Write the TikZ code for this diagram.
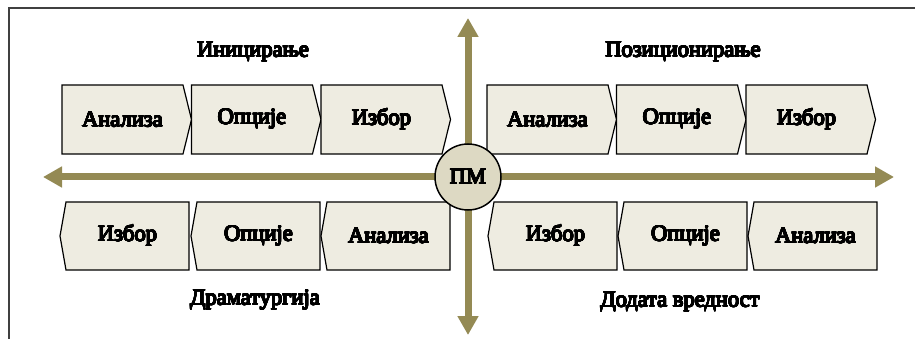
\documentclass[tikz,border=0pt]{standalone}
\usepackage{fontspec}
\setmainfont{Liberation Serif}
\usepackage{contour}
\contourlength{0.5pt}
\contournumber{24}
% heavy serif lettering for every label
\newcommand\heavy[1]{\contour{black}{#1}}
\usetikzlibrary{arrows.meta}
\definecolor{axiscol}{RGB}{148,138,84}
\definecolor{stagefill}{RGB}{238,236,225}
\definecolor{hubfill}{RGB}{221,217,195}
\definecolor{framecol}{RGB}{64,64,64}
\tikzset{
  stage/.style={draw=black, line width=1.2pt, fill=stagefill, line join=miter},
  stagetext/.style={font=\fontsize{22.5}{24}\selectfont, inner sep=0pt},
  title/.style={font=\fontsize{22.5}{24}\selectfont, inner sep=0pt},
  axis/.style={draw=axiscol, line width=7pt, line cap=butt,
    -{Triangle[length=19pt,width=20pt]}},
  hub/.style={circle, draw=black, line width=1.5pt, fill=hubfill,
    minimum size=66pt, inner sep=0pt, font=\fontsize{22.5}{24}\selectfont},
}
% stage pointing right: name, left x, top y, label
\newcommand\chevright[4]{%
  \draw[stage] (#2,#3) -- ++(121,0) -- ++(8.5,34.5) -- ++(-8.5,34.5) -- ++(-121,0) -- cycle;
  \node[stagetext] (#1) at (#2+60.5,#3+34.5) {\heavy{#4}};}
% stage pointing left: name, tip x, top y, label
\newcommand\chevleft[4]{%
  \draw[stage] (#2,#3+34) -- ++(6,-34) -- ++(123,0) -- ++(0,68) -- ++(-123,0) -- cycle;
  \node[stagetext] (#1) at (#2+67.5,#3+34) {\heavy{#4}};}
\begin{document}
\begin{tikzpicture}[x=1pt,y=-1pt]
\useasboundingbox (0,0) rectangle (915,339);
% frame
\draw[framecol, line width=2.5pt] (9,339) -- (9,8) -- (915,8);

% axes
\coordinate (west) at (43,177);
\coordinate (east) at (894,177);
\coordinate (north) at (468,18);
\coordinate (south) at (468,335);
\coordinate (origin) at (468,177);
\draw[axis] (origin) -- (west);
\draw[axis] (origin) -- (east);
\draw[axis] (origin) -- (north);
\draw[axis] (origin) -- (south);

% quadrant titles
\node[title] (init) at (253,52) {\heavy{Иницирање}};
\node[title] (pos) at (683,52) {\heavy{Позиционирање}};
\node[title] (drama) at (255,300) {\heavy{Драматургија}};
\node[title] (added) at (680,302) {\heavy{Додата вредност}};

% upper rows
\chevright{a1}{62}{85}{Анализа}
\chevright{o1}{191.5}{85}{Опције}
\chevright{i1}{321}{85}{Избор}
\chevright{a2}{487}{85}{Анализа}
\chevright{o2}{616.5}{85}{Опције}
\chevright{i2}{746}{85}{Избор}

% lower rows
\chevleft{i3}{60}{202}{Избор}
\chevleft{o3}{191}{202}{Опције}
\chevleft{a3}{321}{202}{Анализа}
\chevleft{i4}{488}{202}{Избор}
\chevleft{o4}{618}{202}{Опције}
\chevleft{a4}{748}{202}{Анализа}

% centre
\node[hub] (pm) at (origin) {\heavy{ПМ}};
\end{tikzpicture}
\end{document}
